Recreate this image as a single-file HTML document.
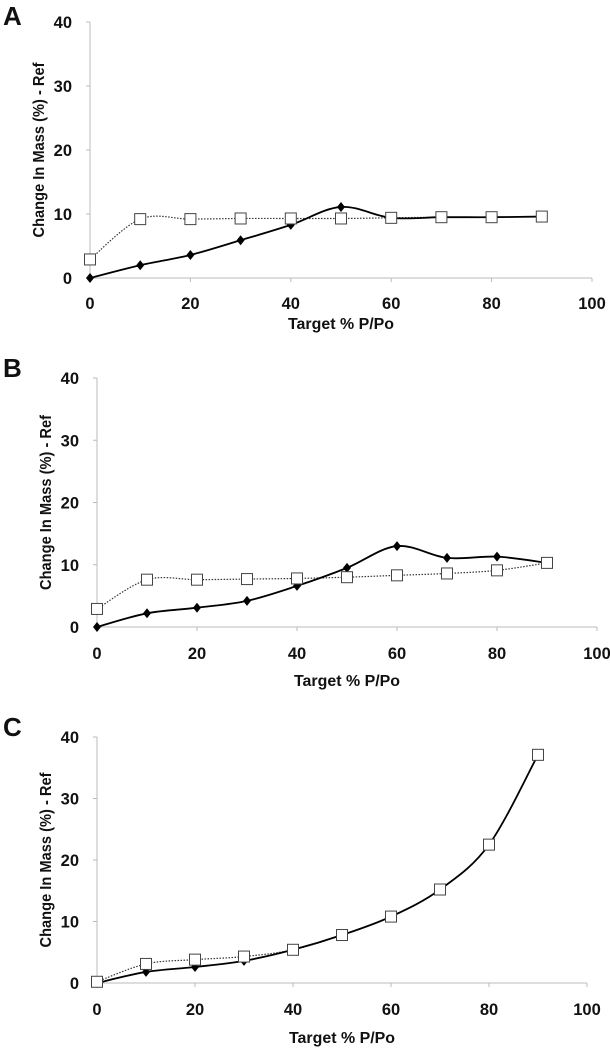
<!DOCTYPE html>
<html><head><meta charset="utf-8"><style>
body{margin:0;background:#fff;width:610px;height:1050px;overflow:hidden}
svg{display:block}
text{font-family:"Liberation Sans",sans-serif;font-weight:bold;fill:#111}
</style></head><body>
<svg id="chart" width="610" height="1050"></svg>
<script>
const xCats=[0,10,20,30,40,50,60,70,80,90];
const xTicks=[0,20,40,60,80,100];
const yTicks=[0,10,20,30,40];
const aSolid=[0,2,3.6,5.9,8.3,11.1,9.4,9.5,9.5,9.6];
const aDotted=[2.9,9.2,9.2,9.3,9.3,9.3,9.4,9.5,9.5,9.6];
const bSolid=[0,2.2,3.1,4.2,6.6,9.5,13,11.1,11.3,10.3];
const bDotted=[2.9,7.6,7.6,7.7,7.8,8,8.3,8.6,9.1,10.3];
const cSolid=[0,1.8,2.6,3.6,5.4,7.8,10.8,15.2,22.5,37.1];
const cDotted=[0.2,3.1,3.8,4.3,5.4,7.8,10.8,15.2,22.5,37.1];
const panels=[
 {id:'a',letter:'A',ly:25,x0:90,x1:592,y0:278,y1:22,solid:aSolid,dotted:aDotted,tk:309,xt:329},
 {id:'b',letter:'B',ly:377,x0:97,x1:597,y0:627,y1:378,solid:bSolid,dotted:bDotted,tk:659,xt:686},
 {id:'c',letter:'C',ly:736,x0:97,x1:587,y0:983,y1:737,solid:cSolid,dotted:cDotted,tk:1015,xt:1043}
];
const svg=document.getElementById('chart');
const NS='http://www.w3.org/2000/svg';
function mk(t,at,p){const e=document.createElementNS(NS,t);for(const k in at)e.setAttribute(k,at[k]);(p||svg).appendChild(e);return e;}
function smooth(pts){let d='M'+pts[0][0]+','+pts[0][1];for(let i=0;i<pts.length-1;i++){const p0=pts[i-1]||pts[i],p1=pts[i],p2=pts[i+1],p3=pts[i+2]||p2;const t=6;d+=' C'+(p1[0]+(p2[0]-p0[0])/t)+','+(p1[1]+(p2[1]-p0[1])/t)+' '+(p2[0]-(p3[0]-p1[0])/t)+','+(p2[1]-(p3[1]-p1[1])/t)+' '+p2[0]+','+p2[1];}return d;}
panels.forEach(P=>{
 const g=mk('g',{});
 
 
 const X=v=>P.x0+(P.x1-P.x0)*v/100, Y=v=>P.y0+(P.y1-P.y0)*v/40;
 const L=mk('text',{x:3,y:P.ly,'font-size':26},g);L.textContent=P.letter;
 
 
 const ya=mk('line',{x1:P.x0,y1:Y(40),x2:P.x0,y2:Y(0),stroke:'#bbb','stroke-width':1},g);
 
 
 const xa=mk('line',{x1:P.x0,y1:P.y0,x2:P.x1,y2:P.y0,stroke:'#bbb','stroke-width':1},g);
 
 
 yTicks.forEach(v=>{mk('line',{x1:P.x0-4,x2:P.x0,y1:Y(v),y2:Y(v),stroke:'#bbb'},g);
  const t=mk('text',{x:P.x0-18,y:Y(v)+6,'font-size':16.5,'text-anchor':'end'},g);t.textContent=v;
  
  });
 xTicks.forEach(v=>{mk('line',{x1:X(v),x2:X(v),y1:P.y0,y2:P.y0+4,stroke:'#bbb'},g);
  const t=mk('text',{x:X(v),y:P.tk,'font-size':16.5,'text-anchor':'middle'},g);t.textContent=v;
  
  });
 const xt=mk('text',{x:(P.x0+P.x1)/2,y:P.xt,'font-size':16,'text-anchor':'middle',textLength:106,lengthAdjust:'spacingAndGlyphs'},g);xt.textContent='Target % P/Po';
 
 
 const cy=(P.y0+P.y1)/2;
 const yt=mk('text',{x:0,y:0,'font-size':16,'text-anchor':'middle',textLength:175,lengthAdjust:'spacingAndGlyphs',transform:'translate('+(P.x0-46)+','+cy+') rotate(-90)'},g);yt.textContent='Change In Mass (%) - Ref';
 
 
 const dp=xCats.map((c,i)=>[X(c),Y(P.dotted[i])]);
 const sp=xCats.map((c,i)=>[X(c),Y(P.solid[i])]);
 const dl=mk('path',{d:smooth(dp),fill:'none',stroke:'#333','stroke-width':1.2,'stroke-dasharray':'1.5,1.5'},g);
 
 
 const sl=mk('path',{d:smooth(sp),fill:'none',stroke:'#000','stroke-width':1.8},g);
 
 
 sp.forEach(p=>{const m=mk('path',{d:'M'+p[0]+','+(p[1]-5)+' L'+(p[0]+4)+','+p[1]+' L'+p[0]+','+(p[1]+5)+' L'+(p[0]-4)+','+p[1]+'Z',fill:'#000'},g);
  
  });
 dp.forEach(p=>{const m=mk('rect',{x:p[0]-5.5,y:p[1]-5.5,width:11,height:11,fill:'#fff',stroke:'#444','stroke-width':1},g);
  
  });
});
</script>
</body></html>
